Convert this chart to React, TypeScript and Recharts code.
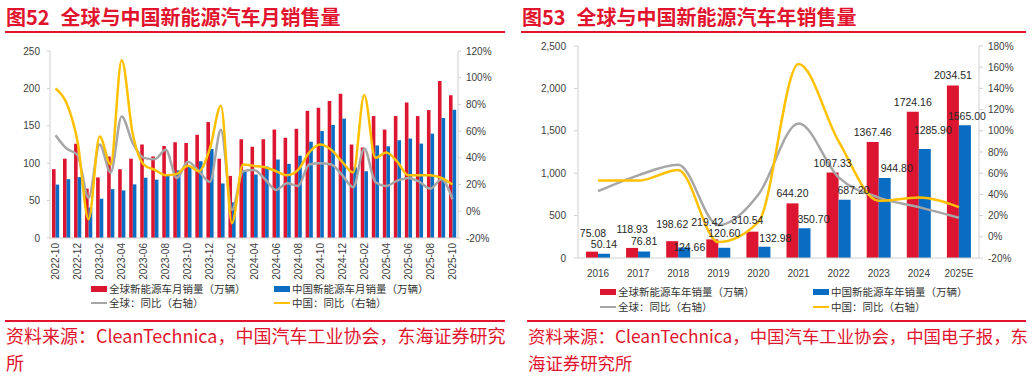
import React from 'react';
import { ComposedChart, Bar, Line, XAxis, YAxis, LabelList } from 'recharts';

const months = [
  '2022-10', '2022-11', '2022-12', '2023-01', '2023-02', '2023-03', '2023-04', '2023-05', '2023-06',
  '2023-07', '2023-08', '2023-09', '2023-10', '2023-11', '2023-12', '2024-01', '2024-02', '2024-03',
  '2024-04', '2024-05', '2024-06', '2024-07', '2024-08', '2024-09', '2024-10', '2024-11', '2024-12',
  '2025-01', '2025-02', '2025-03', '2025-04', '2025-05', '2025-06', '2025-07', '2025-08', '2025-09',
  '2025-10',
];
const globalMonthly = [
  92, 106, 126, 66, 81, 109, 92, 106, 125, 109, 123, 128, 127, 138, 155, 106, 83, 132, 122,
  132, 145, 134, 146, 170, 174, 183, 193, 125, 121, 163, 145, 163, 181, 163, 171, 210, 191,
];
const chinaMonthly = [
  71.4, 78.6, 81.4, 40.8, 52.5, 65.3, 63.6, 71.7, 80.6, 78.0, 85, 90.4, 95.6, 102.6, 119.1, 72.9,
  47.7, 88.3, 85.0, 95.5, 104.9, 99.1, 110.0, 128.7, 143.0, 151.2, 159.6, 94.4, 89.2, 123.7, 122.6,
  130.7, 132.9, 126.2, 139.5, 160.4, 171.5,
];
const globalMonthlyYoy = [
  57, 47, 42, 10, 50, 29, 71, 51, 40, 39, 46, 25, 37, 30, 22, 61, 1, 30, 31, 24, 16, 21, 19,
  35, 36, 35, 27, 18, 47, 22, 19, 23, 25, 22, 17, 24, 9,
];
const chinaMonthlyYoy = [
  92, 81, 52, -6, 56, 35, 113, 58, 35, 31, 27, 28, 34, 30, 47, 79, -9, 35, 34, 33, 30, 27, 31,
  44, 50, 46, 37, 29, 87, 40, 44, 37, 27, 27, 27, 25, 20,
];

const years = ['2016', '2017', '2018', '2019', '2020', '2021', '2022', '2023', '2024', '2025E'];
const globalYearly = [75.08, 118.93, 198.62, 219.42, 310.54, 644.2, 1007.33, 1367.46, 1724.16, 2034.51];
const chinaYearly = [50.14, 76.81, 124.66, 120.6, 132.98, 350.7, 687.2, 944.8, 1285.9, 1565.0];
const globalYearlyYoy = [43, 58, 68, 11, 40, 107, 56, 37, 28, 18];
const chinaYearlyYoy = [53, 53, 63, -5, 14, 163, 90, 34, 37, 28];

// label nudges (Excel moved some labels by hand)
const redLabelNudge = [[1, 19], [0, 19], [0, 17], [-5, 17], [-5, 12], [0, 10], [0, 10], [0, 10], [0, 10], [0, 10]];
const blueLabelNudge = [[0, 10], [0, 10], [5, 0], [0, 15], [11, 9], [9, 9], [9, 10], [12, 10], [8, 19], [2, 9]];

const RED = '#DC1530';
const BLUE = '#0A6CC2';
const GRAY = '#A6A6A6';
const YELLOW = '#FFC000';
const TITLE_RED = '#E2142D';
const AXIS = '#D0D0D0';
const NUM_FONT = '"Liberation Sans", Arial, sans-serif';
const CJK_FONT = '"Noto Sans CJK SC", "Noto Sans", sans-serif';

const monthlyData = months.map((m, i) => ({
  month: m,
  global: globalMonthly[i],
  china: chinaMonthly[i],
  globalYoy: globalMonthlyYoy[i],
  chinaYoy: chinaMonthlyYoy[i],
}));

const yearlyData = years.map((y, i) => ({
  year: y,
  global: globalYearly[i],
  china: chinaYearly[i],
  globalYoy: globalYearlyYoy[i],
  chinaYoy: chinaYearlyYoy[i],
}));

const tickStyle = { fontSize: 10, fill: '#404040', fontFamily: NUM_FONT };

const MonthTick = (props: any) => {
  const { x, y, payload } = props;
  return (
    <text
      x={x}
      y={y}
      transform={`rotate(-90, ${x}, ${y})`}
      textAnchor="end"
      dominantBaseline="central"
      fontSize={10}
      fill="#404040"
      fontFamily={NUM_FONT}
    >
      {payload.value}
    </text>
  );
};

const makeBarLabel = (nudge: number[][]) => (props: any) => {
  const { x, y, width, value, index } = props;
  const [dx, rise] = nudge[index] || [0, 10];
  return (
    <text
      x={x + width / 2 + dx}
      y={y - rise}
      textAnchor="middle"
      dominantBaseline="central"
      fontSize={10.5}
      fill="#262626"
      fontFamily={NUM_FONT}
    >
      {Number(value).toFixed(2)}
    </text>
  );
};

const Rule = ({ left, top, width }: { left: number; top: number; width: number }) => (
  <div style={{ position: 'absolute', left, top, width, height: 2, background: TITLE_RED }} />
);

const Title = ({ left, num, text }: { left: number; num: string; text: string }) => (
  <div
    style={{
      position: 'absolute', left, top: 5, fontSize: 20, lineHeight: '24px', fontWeight: 700,
      color: TITLE_RED, fontFamily: CJK_FONT, whiteSpace: 'nowrap',
    }}
  >
    图{num}<span style={{ marginLeft: 11 }}>{text}</span>
  </div>
);

const Source = ({ left, size, lines }: { left: number; size: number; lines: string[] }) => (
  <div
    style={{
      position: 'absolute', left, top: 322, fontSize: size, lineHeight: '27px',
      color: TITLE_RED, fontFamily: CJK_FONT, whiteSpace: 'nowrap',
    }}
  >
    {lines.map((l) => (
      <div key={l}>{l}</div>
    ))}
  </div>
);

type LegendItem = { label: string; color: string; kind: 'rect' | 'line'; x: number; y: number };

const HtmlLegend = ({ items }: { items: LegendItem[] }) => (
  <>
    {items.map((it) => (
      <div key={it.label} style={{ position: 'absolute', left: it.x, top: it.y - 8, height: 16 }}>
        <div
          style={{
            position: 'absolute', left: 0, top: it.kind === 'rect' ? 5 : 7, width: 16,
            height: it.kind === 'rect' ? 6 : 2, background: it.color,
          }}
        />
        <div
          style={{
            position: 'absolute', left: 18, top: 0, fontSize: 10.5, lineHeight: '16px',
            color: '#333', fontFamily: CJK_FONT, whiteSpace: 'nowrap',
          }}
        >
          {it.label}
        </div>
      </div>
    ))}
  </>
);

const MonthlyChart = () => (
  <div style={{ position: 'absolute', left: 0, top: 0 }}>
    <ComposedChart
      width={510}
      height={290}
      data={monthlyData}
      margin={{ top: 51, right: 7, bottom: 7, left: 0 }}
      barGap={0}
    >
      <XAxis
        dataKey="month"
        interval={1}
        tick={<MonthTick />}
        tickLine={false}
        tickSize={0}
        tickMargin={5}
        axisLine={{ stroke: AXIS }}
        height={45}
      />
      <YAxis
        yAxisId="left"
        domain={[0, 250]}
        ticks={[0, 50, 100, 150, 200, 250]}
        width={50}
        tickSize={3}
        tickMargin={7}
        tick={tickStyle}
        axisLine={{ stroke: AXIS }}
        tickLine={{ stroke: AXIS }}
      />
      <YAxis
        yAxisId="right"
        orientation="right"
        domain={[-20, 120]}
        ticks={[-20, 0, 20, 40, 60, 80, 100, 120]}
        tickFormatter={(v) => `${v}%`}
        width={45}
        tickSize={3}
        tickMargin={5}
        tick={tickStyle}
        axisLine={{ stroke: AXIS }}
        tickLine={{ stroke: AXIS }}
      />
      <Bar yAxisId="left" dataKey="global" fill={RED} barSize={3.6} isAnimationActive={false} />
      <Bar yAxisId="left" dataKey="china" fill={BLUE} barSize={3.6} isAnimationActive={false} />
      <Line yAxisId="right" type="monotone" dataKey="globalYoy" stroke={GRAY} strokeWidth={2.5} dot={false} isAnimationActive={false} />
      <Line yAxisId="right" type="monotone" dataKey="chinaYoy" stroke={YELLOW} strokeWidth={2.5} dot={false} isAnimationActive={false} />
    </ComposedChart>
  </div>
);

const YearlyChart = () => (
  <div style={{ position: 'absolute', left: 516, top: 0 }}>
    <ComposedChart
      width={516}
      height={290}
      data={yearlyData}
      margin={{ top: 46, right: 8, bottom: 7, left: 0 }}
      barGap={0}
    >
      <XAxis
        dataKey="year"
        tickLine={false}
        tickMargin={6}
        tick={tickStyle}
        axisLine={{ stroke: AXIS }}
        height={25}
      />
      <YAxis
        yAxisId="left"
        domain={[0, 2500]}
        ticks={[0, 500, 1000, 1500, 2000, 2500]}
        tickFormatter={(v) => Number(v).toLocaleString('en-US')}
        width={62}
        tickSize={4}
        tickMargin={8}
        tick={tickStyle}
        axisLine={{ stroke: AXIS }}
        tickLine={{ stroke: AXIS }}
      />
      <YAxis
        yAxisId="right"
        orientation="right"
        domain={[-20, 180]}
        ticks={[-20, 0, 20, 40, 60, 80, 100, 120, 140, 160, 180]}
        tickFormatter={(v) => `${v}%`}
        width={45}
        tickSize={4}
        tickMargin={5}
        tick={tickStyle}
        axisLine={{ stroke: AXIS }}
        tickLine={{ stroke: AXIS }}
      />
      <Bar yAxisId="left" dataKey="global" fill={RED} barSize={12} isAnimationActive={false}>
        <LabelList dataKey="global" content={makeBarLabel(redLabelNudge)} />
      </Bar>
      <Bar yAxisId="left" dataKey="china" fill={BLUE} barSize={12} isAnimationActive={false}>
        <LabelList dataKey="china" content={makeBarLabel(blueLabelNudge)} />
      </Bar>
      <Line yAxisId="right" type="monotone" dataKey="globalYoy" stroke={GRAY} strokeWidth={2.5} dot={false} isAnimationActive={false} />
      <Line yAxisId="right" type="monotone" dataKey="chinaYoy" stroke={YELLOW} strokeWidth={2.5} dot={false} isAnimationActive={false} />
    </ComposedChart>
  </div>
);

export default function App() {
  return (
    <div style={{ position: 'absolute', left: 0, top: 0, width: 1032, height: 376, background: '#fff', overflow: 'hidden' }}>
      <Title left={6} num="52" text="全球与中国新能源汽车月销售量" />
      <Rule left={5} top={31} width={500} />
      <Title left={522} num="53" text="全球与中国新能源汽车年销售量" />
      <Rule left={521} top={31} width={505} />

      <MonthlyChart />
      <YearlyChart />

      <HtmlLegend
        items={[
          { label: '全球新能源车月销量（万辆）', color: RED, kind: 'rect', x: 91, y: 289 },
          { label: '中国新能源车月销量（万辆）', color: BLUE, kind: 'rect', x: 274, y: 289 },
          { label: '全球：同比（右轴）', color: GRAY, kind: 'line', x: 91, y: 303 },
          { label: '中国：同比（右轴）', color: YELLOW, kind: 'line', x: 274, y: 303 },
        ]}
      />
      <HtmlLegend
        items={[
          { label: '全球新能源车年销量（万辆）', color: RED, kind: 'rect', x: 600, y: 292 },
          { label: '中国新能源车年销量（万辆）', color: BLUE, kind: 'rect', x: 813, y: 292 },
          { label: '全球：同比（右轴）', color: GRAY, kind: 'line', x: 600, y: 307 },
          { label: '中国：同比（右轴）', color: YELLOW, kind: 'line', x: 813, y: 307 },
        ]}
      />

      <Rule left={5} top={320} width={500} />
      <Source left={6} size={18} lines={['资料来源：CleanTechnica，中国汽车工业协会，东海证券研究', '所']} />
      <Rule left={527} top={320} width={499} />
      <Source left={528} size={17.4} lines={['资料来源：CleanTechnica，中国汽车工业协会，中国电子报，东', '海证券研究所']} />
    </div>
  );
}
